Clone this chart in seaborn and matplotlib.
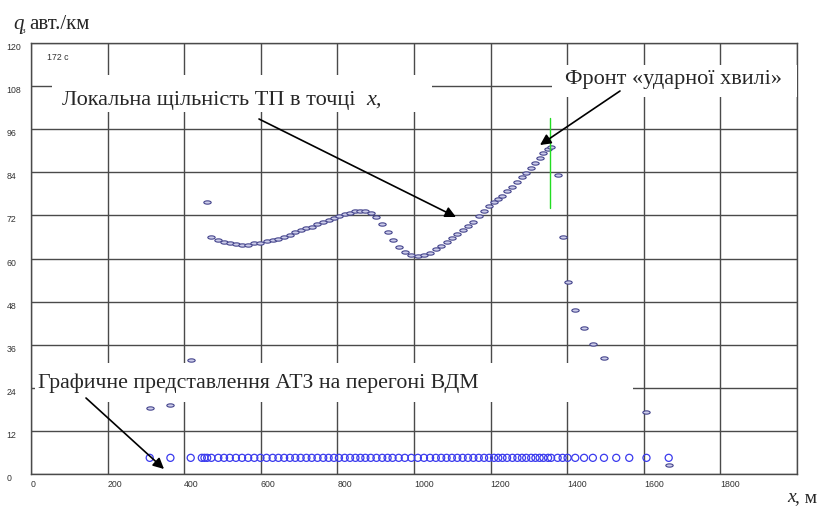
import matplotlib
matplotlib.use("Agg")
import matplotlib.pyplot as plt
import seaborn as sns
import numpy as np
from matplotlib.path import Path
from matplotlib.patches import Rectangle

# ---------------- data ----------------
x_ticks = [0, 200, 400, 600, 800, 1000, 1200, 1400, 1600, 1800]
x_grid = [0, 200, 400, 600, 800, 1000, 1200, 1400, 1600, 1800, 2000]
y_ticks = [0, 12, 24, 36, 48, 60, 72, 84, 96, 108, 120]

# local density q (veh/km) at each vehicle position x (m)
density_x = [310, 364, 417, 460, 471, 489, 504, 519, 535, 551, 567, 583, 599,
             615, 631, 646, 661, 676, 690, 704, 719, 733, 748, 763, 777, 791,
             804, 819, 833, 847, 860, 873, 887, 902, 917, 931, 944, 960, 976,
             993, 1010, 1026, 1042, 1057, 1071, 1085, 1099, 1113, 1127, 1141,
             1155, 1169, 1183, 1196, 1209, 1220, 1231, 1243, 1257, 1270, 1282,
             1293, 1306, 1317, 1328, 1338, 1350, 1358, 1375, 1388, 1401, 1421,
             1444, 1467, 1496, 1607, 1665]
density_q = [18.4, 19.2, 31.7, 75.8, 66.1, 65.1, 64.6, 64.2, 63.9, 63.8, 63.8,
             64.2, 64.4, 64.8, 65.1, 65.5, 66.1, 66.6, 67.3, 67.9, 68.4, 68.9,
             69.5, 70.1, 70.6, 71.2, 71.8, 72.4, 72.7, 73.1, 73.3, 73.2, 72.7,
             71.5, 69.7, 67.5, 65.1, 63.2, 61.9, 61.0, 60.8, 61.1, 61.6, 62.6,
             63.6, 64.6, 65.6, 66.7, 67.8, 69.0, 70.3, 71.7, 73.1, 74.5, 75.7,
             76.6, 77.5, 78.8, 80.0, 81.2, 82.6, 83.9, 85.1, 86.7, 88.1, 89.5,
             90.6, 91.1, 83.2, 66.1, 53.4, 45.8, 40.6, 36.3, 32.4, 17.2, 2.5]

# vehicles on the road section (graphic representation)
vehicle_x = [310, 364, 417, 446, 453, 460, 471, 489, 504, 519, 535, 551, 567,
             583, 599, 615, 631, 646, 661, 676, 690, 704, 719, 733, 748, 763,
             777, 791, 804, 819, 833, 847, 860, 873, 887, 902, 917, 931, 944,
             960, 976, 993, 1010, 1026, 1042, 1057, 1071, 1085, 1099, 1113,
             1127, 1141, 1155, 1169, 1183, 1196, 1209, 1220, 1231, 1243, 1257,
             1270, 1282, 1293, 1306, 1317, 1328, 1338, 1350, 1358, 1375, 1388,
             1401, 1421, 1444, 1467, 1496, 1528, 1562, 1607, 1665]
vehicle_level = [4.5] * len(vehicle_x)

front_x = [1355, 1355]
front_q = [74, 99]

# ---------------- figure ----------------
sns.set_style("white")
plt.rcParams["font.family"] = ["Liberation Sans", "DejaVu Sans"]

W, H = 817, 507
fig = plt.figure(figsize=(W / 100, H / 100), dpi=100)
L, R, T, B = 31, 797, 43, 474
ax = fig.add_axes([L / W, 1 - B / H, (R - L) / W, (B - T) / H])
ax.set_xlim(0, 2000)
ax.set_ylim(0, 120)

grid_c = "#4a4a4a"
for gx in x_grid:
    ax.axvline(gx, color=grid_c, lw=1.0, zorder=1)
for gy in y_ticks:
    ax.axhline(gy, color=grid_c, lw=1.0, zorder=1)
for sp in ax.spines.values():
    sp.set_color(grid_c)
    sp.set_linewidth(1.0)

ax.set_xticks(x_ticks)
ax.set_xticklabels([str(v) for v in x_ticks])
ax.set_yticks(y_ticks)
ax.set_yticklabels([str(v) for v in y_ticks])
ax.tick_params(axis="x", length=0, pad=4, labelsize=6.3, labelcolor="#333333")
ax.tick_params(axis="y", length=0, pad=17.5, labelsize=6.3, labelcolor="#333333")
for lab in ax.get_xticklabels():
    lab.set_ha("left")
for lab in ax.get_yticklabels():
    lab.set_ha("left")
    lab.set_va("top")

# ellipse marker for density points
circ = Path.unit_circle()
ell = Path(circ.vertices * np.array([1.0, 0.45]), circ.codes)

sns.scatterplot(x=density_x, y=density_q, ax=ax, marker=ell, s=28,
                color="#c9c9e8", facecolor="#cdcdea", edgecolor="#45458c",
                linewidth=0.8, zorder=3)
sns.scatterplot(x=vehicle_x, y=vehicle_level, ax=ax, marker="o", s=26,
                color="#3b3bee", facecolor="none", edgecolor="#3b3bee",
                linewidth=0.9, zorder=3)
sns.lineplot(x=front_x, y=front_q, ax=ax, color="#22dd22", lw=1.0,
             estimator=None, sort=False, zorder=3)

ax.set_xlabel("")
ax.set_ylabel("")


def px2d(px, py):
    return ((px - L) / (R - L) * 2000, (B - py) / (B - T) * 120)


# white boxes behind the annotations
def white_box(x0, y0, x1, y1):
    (dx0, dy0), (dx1, dy1) = px2d(x0, y1), px2d(x1, y0)
    ax.add_patch(Rectangle((dx0, dy0), dx1 - dx0, dy1 - dy0, facecolor="white",
                           edgecolor="none", zorder=5, clip_on=True))


white_box(52, 75, 432, 112)
white_box(552, 65, 800, 97)
white_box(35, 363, 633, 402)

serif = ["Liberation Serif", "DejaVu Serif"]
fs = 16
arrow_kw = dict(arrowstyle="-|>", color="black", lw=1.2, mutation_scale=16,
                shrinkA=0, shrinkB=0)

t1 = ax.text(*px2d(62, 100), "Локальна щільність ТП в точці ", family=serif,
             fontsize=fs, va="center", ha="left", zorder=6)
ax.annotate("x,", xy=(1, 0), xycoords=t1, xytext=(4, 0),
            textcoords="offset points", family=serif, fontsize=fs,
            style="italic", va="bottom", ha="left", zorder=6)
ax.text(*px2d(565, 79), "Фронт «ударної хвилі»", family=serif, fontsize=fs,
        va="center", ha="left", zorder=6)
ax.text(*px2d(38, 383), "Графичне представлення АТЗ на перегоні ВДМ",
        family=serif, fontsize=15.7, va="center", ha="left", zorder=6)

ax.annotate("", xy=px2d(456, 217), xytext=px2d(259, 119), arrowprops=arrow_kw,
            zorder=4)
ax.annotate("", xy=px2d(540, 145), xytext=px2d(620, 91), arrowprops=arrow_kw,
            zorder=7)
ax.annotate("", xy=px2d(164, 469), xytext=px2d(86, 398), arrowprops=arrow_kw,
            zorder=7)

ax.text(*px2d(47, 57), "172 с", fontsize=6.3, color="#333333", va="center",
        ha="left", zorder=6)

# axis titles
fig.text(13 / W, 1 - 29 / H, "q", family=serif, style="italic", fontsize=15,
         va="baseline", ha="left")
fig.text(22 / W, 1 - 33 / H, "з", family=serif, fontsize=6.5,
         va="baseline", ha="left")
fig.text(29 / W, 1 - 29 / H, "авт./км", family=serif, fontsize=15,
         va="baseline", ha="left")
fig.text(787 / W, 1 - 502 / H, "x", family=serif, style="italic", fontsize=14,
         va="baseline", ha="left")
fig.text(795 / W, 1 - 502 / H, ", м", family=serif, fontsize=14,
         va="baseline", ha="left")

fig.savefig("out.png", dpi=100, facecolor="white")
